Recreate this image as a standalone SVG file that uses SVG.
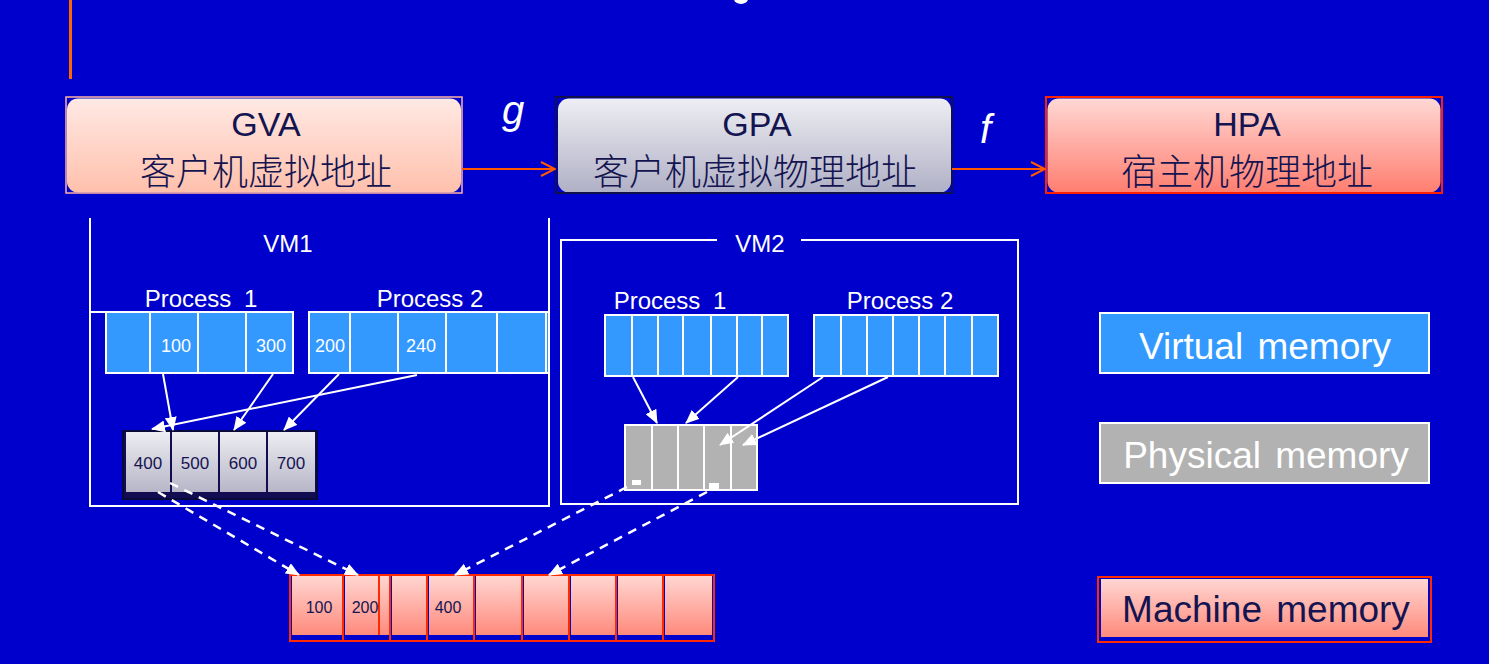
<svg xmlns="http://www.w3.org/2000/svg" width="1489" height="664" viewBox="0 0 1489 664">
<defs>
  <linearGradient id="gPink" x1="0" y1="0" x2="0" y2="1">
    <stop offset="0" stop-color="#FFE9E4"/>
    <stop offset="1" stop-color="#FFC0AC"/>
  </linearGradient>
  <linearGradient id="gGray" x1="0" y1="0" x2="0" y2="1">
    <stop offset="0" stop-color="#EEEEF3"/>
    <stop offset="1" stop-color="#B0B0C6"/>
  </linearGradient>
  <linearGradient id="gRed" x1="0" y1="0" x2="0" y2="1">
    <stop offset="0" stop-color="#FFD8D4"/>
    <stop offset="1" stop-color="#FF7E70"/>
  </linearGradient>
  <linearGradient id="gCell" x1="0" y1="0" x2="0" y2="1">
    <stop offset="0" stop-color="#FFD6D2"/>
    <stop offset="1" stop-color="#FF8A7C"/>
  </linearGradient>
  <linearGradient id="gPhys" x1="0" y1="0" x2="0" y2="1">
    <stop offset="0" stop-color="#EDEDF2"/>
    <stop offset="1" stop-color="#B6B6C8"/>
  </linearGradient>
  <marker id="open" viewBox="0 0 16 16" refX="15" refY="8" markerWidth="16" markerHeight="16" markerUnits="userSpaceOnUse" orient="auto">
    <path d="M1,1 L15,8 L1,15" fill="none" stroke="#FF5A00" stroke-width="2"/>
  </marker>
  <marker id="tri" viewBox="0 0 14 12" refX="13" refY="6" markerWidth="14" markerHeight="12" markerUnits="userSpaceOnUse" orient="auto">
    <path d="M0,0 L14,6 L0,12 Z" fill="#FFFFFF"/>
  </marker>
</defs>
<style>
  .title{font-family:"Liberation Sans",Arial,sans-serif;font-size:34px;fill:#141450;text-anchor:middle}
  .cn{font-family:"Noto Sans CJK SC","Noto Sans CJK JP",sans-serif;font-size:36px;font-weight:300;fill:#141450;text-anchor:middle}
  .fn{font-family:"Liberation Sans",Arial,sans-serif;font-style:italic;font-size:40px;fill:#FFFFFF}
  .lbl{font-family:"Liberation Sans",Arial,sans-serif;font-size:24px;fill:#FFFFFF;text-anchor:middle}
  .num{font-family:"Liberation Sans",Arial,sans-serif;font-size:18px;fill:#FFFFFF;text-anchor:middle}
  .pnum{font-family:"Liberation Sans",Arial,sans-serif;font-size:17px;fill:#141450;text-anchor:middle}
  .mnum{font-family:"Liberation Sans",Arial,sans-serif;font-size:16px;fill:#141450;text-anchor:middle}
  .leg{font-family:"Liberation Sans",Arial,sans-serif;font-size:37px;text-anchor:middle;word-spacing:4px}
  .vcell{fill:#3399FF;stroke:#FFFFFF;stroke-width:2}
  .wline{stroke:#FFFFFF;stroke-width:2;fill:none}
  .arr{stroke:#FFFFFF;stroke-width:2;fill:none;marker-end:url(#tri)}
  .dash{stroke:#FFFFFF;stroke-width:2.5;fill:none;stroke-dasharray:9 7;marker-end:url(#tri)}
  .rdiv{stroke:#FF2A00;stroke-width:2;fill:none}
</style>
<rect x="0" y="0" width="1489" height="664" fill="#0000CC"/>
<line x1="70.5" y1="0" x2="70.5" y2="79" stroke="#FF6600" stroke-width="3"/>
<ellipse cx="741" cy="-1" rx="7" ry="5" fill="#FFFFFF"/>

<g id="gva">
  <rect x="67" y="98.5" width="394" height="94" rx="11" fill="url(#gPink)"/>
  <rect x="66" y="97" width="396" height="96" fill="none" stroke="#FFB4A4" stroke-width="1.5"/>
  <text class="title" x="266" y="136">GVA</text>
  <text class="cn" x="266" y="185">客户机虚拟地址</text>
</g>
<g id="gpa">
  <rect x="558" y="98.5" width="393" height="94" rx="11" fill="url(#gGray)"/>
  <rect x="556" y="97" width="396" height="96" fill="none" stroke="#10104A" stroke-width="2"/>
  <text class="title" x="757" y="136">GPA</text>
  <text class="cn" x="755" y="185">客户机虚拟物理地址</text>
</g>
<g id="hpa">
  <rect x="1047.5" y="98.5" width="393" height="94" rx="11" fill="url(#gRed)"/>
  <rect x="1046" y="97" width="396" height="96" fill="none" stroke="#FF2200" stroke-width="2"/>
  <text class="title" x="1247" y="136">HPA</text>
  <text class="cn" x="1247" y="185">宿主机物理地址</text>
</g>

<g id="vm1">
  <polyline class="wline" points="90,218 90,506 549,506 549,218"/>
  <line class="wline" x1="90" y1="312" x2="106" y2="312"/>
  <text class="lbl" x="288" y="252">VM1</text>
  <text class="lbl" x="201" y="307" style="word-spacing:6px">Process 1</text>
  <text class="lbl" x="430" y="307">Process 2</text>
  <g id="vm1-p1">
    <rect class="vcell" x="106" y="312" width="44" height="61"/>
    <rect class="vcell" x="150" y="312" width="48" height="61"/>
    <rect class="vcell" x="198" y="312" width="48" height="61"/>
    <rect class="vcell" x="246" y="312" width="47" height="61"/>
    <text class="num" x="176" y="352">100</text>
    <text class="num" x="271" y="352">300</text>
  </g>
  <g id="vm1-p2">
    <rect class="vcell" x="309" y="312" width="41" height="61"/>
    <rect class="vcell" x="350" y="312" width="48" height="61"/>
    <rect class="vcell" x="398" y="312" width="48" height="61"/>
    <rect class="vcell" x="446" y="312" width="51" height="61"/>
    <rect class="vcell" x="497" y="312" width="49" height="61"/>
    <rect class="vcell" x="546" y="312" width="3" height="61"/>
    <text class="num" x="330" y="352">200</text>
    <text class="num" x="421" y="352">240</text>
  </g>
  <g id="vm1-phys">
    <rect x="123" y="431" width="194" height="68" fill="#120C52" stroke="#0A0A3A" stroke-width="2"/>
    <rect x="126" y="432" width="44" height="60" fill="url(#gPhys)"/>
    <rect x="172" y="432" width="46" height="60" fill="url(#gPhys)"/>
    <rect x="220" y="432" width="46" height="60" fill="url(#gPhys)"/>
    <rect x="268" y="432" width="47" height="60" fill="url(#gPhys)"/>
    <text class="pnum" x="148" y="469">400</text>
    <text class="pnum" x="195" y="469">500</text>
    <text class="pnum" x="243" y="469">600</text>
    <text class="pnum" x="291" y="469">700</text>
  </g>
</g>

<g id="vm2">
  <polyline class="wline" points="717,240 561,240 561,504 1018,504 1018,240 801,240"/>
  <text class="lbl" x="760" y="252">VM2</text>
  <text class="lbl" x="670" y="309" style="word-spacing:6px">Process 1</text>
  <text class="lbl" x="900" y="309">Process 2</text>
  <g id="vm2-p1">
    <rect class="vcell" x="605" y="315" width="27" height="61"/>
    <rect class="vcell" x="632" y="315" width="26" height="61"/>
    <rect class="vcell" x="658" y="315" width="25" height="61"/>
    <rect class="vcell" x="683" y="315" width="28" height="61"/>
    <rect class="vcell" x="711" y="315" width="26" height="61"/>
    <rect class="vcell" x="737" y="315" width="25" height="61"/>
    <rect class="vcell" x="762" y="315" width="26" height="61"/>
  </g>
  <g id="vm2-p2">
    <rect class="vcell" x="814" y="315" width="27" height="61"/>
    <rect class="vcell" x="841" y="315" width="26" height="61"/>
    <rect class="vcell" x="867" y="315" width="26" height="61"/>
    <rect class="vcell" x="893" y="315" width="26" height="61"/>
    <rect class="vcell" x="919" y="315" width="26" height="61"/>
    <rect class="vcell" x="945" y="315" width="27" height="61"/>
    <rect class="vcell" x="972" y="315" width="26" height="61"/>
  </g>
  <g id="vm2-phys">
    <rect x="625" y="425" width="132" height="65" fill="#B2B2B2" stroke="#FFFFFF" stroke-width="2"/>
    <line class="wline" x1="652" y1="425" x2="652" y2="490"/>
    <line class="wline" x1="678" y1="425" x2="678" y2="490"/>
    <line class="wline" x1="704" y1="425" x2="704" y2="490"/>
    <line class="wline" x1="731" y1="425" x2="731" y2="490"/>
    <rect x="632" y="480" width="9" height="5" fill="#FFFFFF"/>
    <rect x="709" y="483" width="10" height="6" fill="#FFFFFF"/>
  </g>
</g>

<g id="machine">
  <rect x="292" y="576" width="51" height="59" fill="url(#gCell)"/>
  <rect x="345" y="576" width="45" height="59" fill="url(#gCell)"/>
  <rect x="392" y="576" width="35" height="59" fill="url(#gCell)"/>
  <rect x="429" y="576" width="45" height="59" fill="url(#gCell)"/>
  <rect x="476" y="576" width="46" height="59" fill="url(#gCell)"/>
  <rect x="524" y="576" width="45" height="59" fill="url(#gCell)"/>
  <rect x="571" y="576" width="45" height="59" fill="url(#gCell)"/>
  <rect x="618" y="576" width="45" height="59" fill="url(#gCell)"/>
  <rect x="665" y="576" width="47" height="59" fill="url(#gCell)"/>
  <rect x="290" y="575" width="424" height="66" fill="none" stroke="#FF2A00" stroke-width="2"/>
  <line class="rdiv" x1="343" y1="575" x2="343" y2="641"/>
  <line class="rdiv" x1="379" y1="575" x2="379" y2="635"/>
  <line class="rdiv" x1="390" y1="575" x2="390" y2="641"/>
  <line class="rdiv" x1="427" y1="575" x2="427" y2="641"/>
  <line class="rdiv" x1="474" y1="575" x2="474" y2="641"/>
  <line class="rdiv" x1="522" y1="575" x2="522" y2="641"/>
  <line class="rdiv" x1="569" y1="575" x2="569" y2="641"/>
  <line class="rdiv" x1="616" y1="575" x2="616" y2="641"/>
  <line class="rdiv" x1="663" y1="575" x2="663" y2="641"/>
  <text class="mnum" x="319" y="613">100</text>
  <text class="mnum" x="365" y="613">200</text>
  <text class="mnum" x="448" y="613">400</text>
</g>

<g id="legend-virtual">
  <rect x="1100" y="313" width="329" height="60" fill="#3399FF" stroke="#FFFFFF" stroke-width="2"/>
  <text class="leg" x="1265" y="359" fill="#FFFFFF">Virtual memory</text>
</g>
<g id="legend-physical">
  <rect x="1100" y="423" width="329" height="60" fill="#B2B2B2" stroke="#FFFFFF" stroke-width="2"/>
  <text class="leg" x="1266" y="468" fill="#FFFFFF">Physical memory</text>
</g>
<g id="legend-machine">
  <rect x="1101" y="579" width="327" height="58" fill="url(#gCell)"/>
  <rect x="1098" y="577" width="333" height="65" fill="none" stroke="#FF2A00" stroke-width="2"/>
  <text class="leg" x="1266" y="622" fill="#141450">Machine memory</text>
</g>

<g id="connectors">
  <line x1="462" y1="169" x2="555" y2="169" stroke="#FF5A00" stroke-width="2" marker-end="url(#open)"/>
  <line x1="952" y1="169" x2="1045" y2="169" stroke="#FF5A00" stroke-width="2" marker-end="url(#open)"/>
  <text class="fn" x="502" y="124">g</text>
  <text class="fn" x="980" y="143">f</text>
  <line class="arr" x1="163" y1="374" x2="173" y2="430"/>
  <line class="arr" x1="273" y1="374" x2="234" y2="430"/>
  <line class="arr" x1="339" y1="374" x2="284" y2="430"/>
  <line class="arr" x1="417" y1="375" x2="152" y2="429"/>
  <line class="arr" x1="633" y1="377" x2="657" y2="423"/>
  <line class="arr" x1="738" y1="377" x2="686" y2="423"/>
  <line class="arr" x1="823" y1="377" x2="720" y2="445"/>
  <line class="arr" x1="888" y1="377" x2="743" y2="445"/>
  <line class="dash" x1="158" y1="492" x2="299" y2="575"/>
  <line class="dash" x1="170" y1="483" x2="358" y2="575"/>
  <line class="dash" x1="627" y1="487" x2="455" y2="575"/>
  <line class="dash" x1="707" y1="492" x2="549" y2="575"/>
</g>
</svg>
